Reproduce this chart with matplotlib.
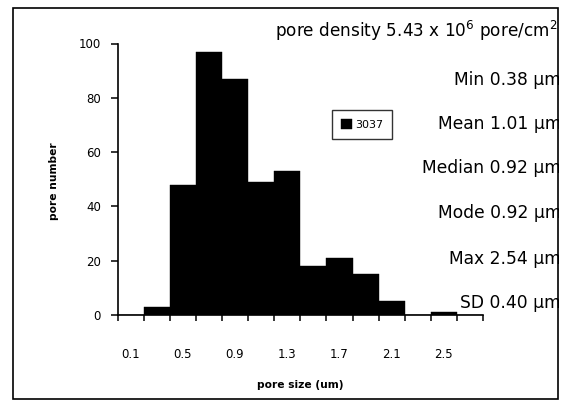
import matplotlib
matplotlib.use("Agg")
import matplotlib.pyplot as plt
from matplotlib.patches import Rectangle

# ---- data ----
categories = ['0.1', '0.3', '0.5', '0.7', '0.9', '1.1', '1.3',
              '1.5', '1.7', '1.9', '2.1', '2.3', '2.5', '2.7']
counts = [0, 3, 48, 97, 87, 49, 53, 18, 21, 15, 5, 0, 1, 0]
series_name = '3037'
yticks = [0, 20, 40, 60, 80, 100]
density_text = r'pore density 5.43 x 10$^{6}$ pore/cm$^{2}$'
stats_lines = ['Min 0.38 \u03bcm', 'Mean 1.01 \u03bcm', 'Median 0.92 \u03bcm',
               'Mode 0.92 \u03bcm', 'Max 2.54 \u03bcm', 'SD 0.40 \u03bcm']
xlabel = 'pore size (um)'
ylabel = 'pore number'

W, H = 562, 407
plt.rcParams['font.family'] = ['DejaVu Sans']
plt.rcParams['mathtext.fontset'] = 'dejavusans'
plt.rcParams['mathtext.default'] = 'regular'

fig = plt.figure(figsize=(W / 100, H / 100), dpi=100)
fig.patch.set_facecolor('white')

def fx(px):
    return px / W

def fy(py):
    return 1 - py / H

ax_left, ax_right, ax_top, ax_bottom = 117.6, 483, 43.5, 315
ax = fig.add_axes([fx(ax_left), fy(ax_bottom), fx(ax_right - ax_left), (ax_bottom - ax_top) / H])

x = list(range(len(categories)))
bars = ax.bar(x, counts, width=1.0, color='black', edgecolor='black', linewidth=0.3,
              label=series_name)

ax.set_xlim(-0.5, len(categories) - 0.5)
ax.set_ylim(0, 100)

for s in ['top', 'right']:
    ax.spines[s].set_visible(False)
for s in ['left', 'bottom']:
    ax.spines[s].set_linewidth(1.2)
    ax.spines[s].set_color('black')

ax.set_yticks(yticks)
ax.set_yticklabels([str(v) for v in yticks], fontsize=8.5)
ax.tick_params(axis='y', direction='out', length=5, width=1.1, pad=7)

ax.set_xticks(x[::2])
ax.set_xticklabels(categories[::2], fontsize=8.5)
ax.set_xticks([i - 0.5 for i in range(len(categories) + 1)], minor=True)
ax.tick_params(axis='x', which='major', length=0, pad=24)
ax.tick_params(axis='x', which='minor', direction='out', length=4, width=1.1)

fig.text(fx(300), fy(385), xlabel, ha='center', va='center', fontsize=7.7,
         fontweight='bold')
fig.text(fx(54), fy(181), ylabel, ha='center', va='center', rotation=90,
         fontsize=7.7, fontweight='bold')

# statistics text on the right
fig.text(fx(558), fy(37), density_text, ha='right', va='baseline', fontsize=12.2)
baselines = [85, 129, 173, 218, 264, 308]
for txt, b in zip(stats_lines, baselines):
    fig.text(fx(561), fy(b), txt, ha='right', va='baseline', fontsize=12.3)

# legend
leg = ax.legend(handles=[bars], labels=[series_name], loc='upper left',
                bbox_to_anchor=(fx(332), fy(110)), bbox_transform=fig.transFigure,
                borderaxespad=0, fancybox=False, frameon=True, fontsize=8,
                handlelength=1.0, handleheight=1.0, handletextpad=0.3,
                borderpad=0.8)
leg.get_frame().set_edgecolor('black')
leg.get_frame().set_linewidth(1.0)

# clip beyond right border and draw chart border
fig.patches.append(Rectangle((fx(558.5), 0), 1 - fx(558.5), 1, transform=fig.transFigure,
                             facecolor='white', edgecolor='none', zorder=10))
fig.patches.append(Rectangle((fx(13), fy(399)), fx(558 - 13), (399 - 8) / H,
                             transform=fig.transFigure, facecolor='none',
                             edgecolor='black', linewidth=1.2, zorder=11))

fig.savefig('out.png', dpi=100)
